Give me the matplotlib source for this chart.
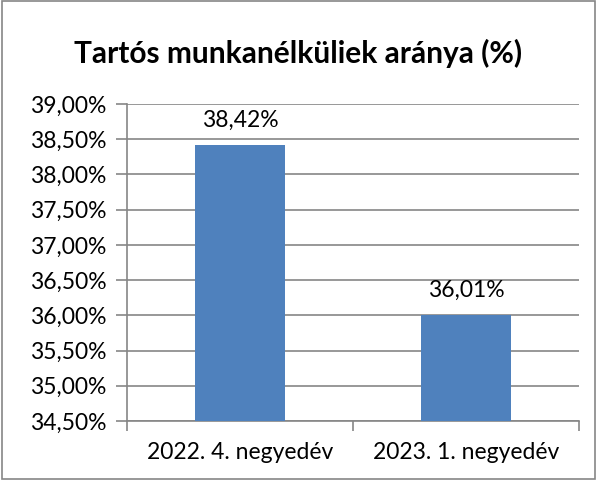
import matplotlib.pyplot as plt
import matplotlib as mpl
from matplotlib.patches import Rectangle
from matplotlib.ticker import FuncFormatter, FixedLocator
import numpy as np

categories = ["2022. 4. negyedév", "2023. 1. negyedév"]
values = [38.42, 36.01]
title = "Tartós munkanélküliek aránya (%)"

mpl.rcParams["font.family"] = ["Lato", "DejaVu Sans"]

fig = plt.figure(figsize=(5.97, 4.8), dpi=100)
ax = fig.add_axes([127 / 597, 1 - 421 / 480, 452 / 597, 317 / 480])

x = np.arange(len(categories))
ax.bar(x, values, width=0.4, color="#4F81BD", zorder=3)

ax.set_ylim(34.5, 39.0)
ax.set_xlim(-0.5, 1.5)
ax.set_yticks(np.arange(34.5, 39.01, 0.5))
ax.yaxis.set_major_formatter(FuncFormatter(lambda v, p: f"{v:.2f}%".replace(".", ",")))
ax.grid(axis="y", color="#868686", linewidth=1.2, zorder=0)

ax.xaxis.set_major_locator(FixedLocator([-0.5, 0.5, 1.5]))
ax.xaxis.set_major_formatter(FuncFormatter(lambda v, p: ""))
ax.xaxis.set_minor_locator(FixedLocator(x))
ax.set_xticklabels(categories, minor=True)
ax.tick_params(axis="x", which="minor", length=0, pad=15, labelsize=16.5)
ax.tick_params(axis="x", which="major", length=7, width=1.2, color="#868686")
ax.tick_params(axis="y", length=8, width=1.2, color="#868686", labelsize=16.5, pad=7)

for side in ["top", "right"]:
    ax.spines[side].set_visible(False)
for side in ["left", "bottom"]:
    ax.spines[side].set_color("#868686")
    ax.spines[side].set_linewidth(1.2)

for xi, v in zip(x, values):
    ax.annotate(f"{v:.2f}%".replace(".", ","), (xi, v), xytext=(0, 13),
                textcoords="offset points", ha="center", va="baseline", fontsize=16.5)

fig.text(0.5, 1 - 53 / 480, title, ha="center", va="center", fontsize=21.5, fontweight="bold")

fig.patches.append(Rectangle((0.003, 0.003), 0.994, 0.994, transform=fig.transFigure,
                             fill=False, edgecolor="#868686", linewidth=1.2))

plt.savefig("out.png", dpi=100)
